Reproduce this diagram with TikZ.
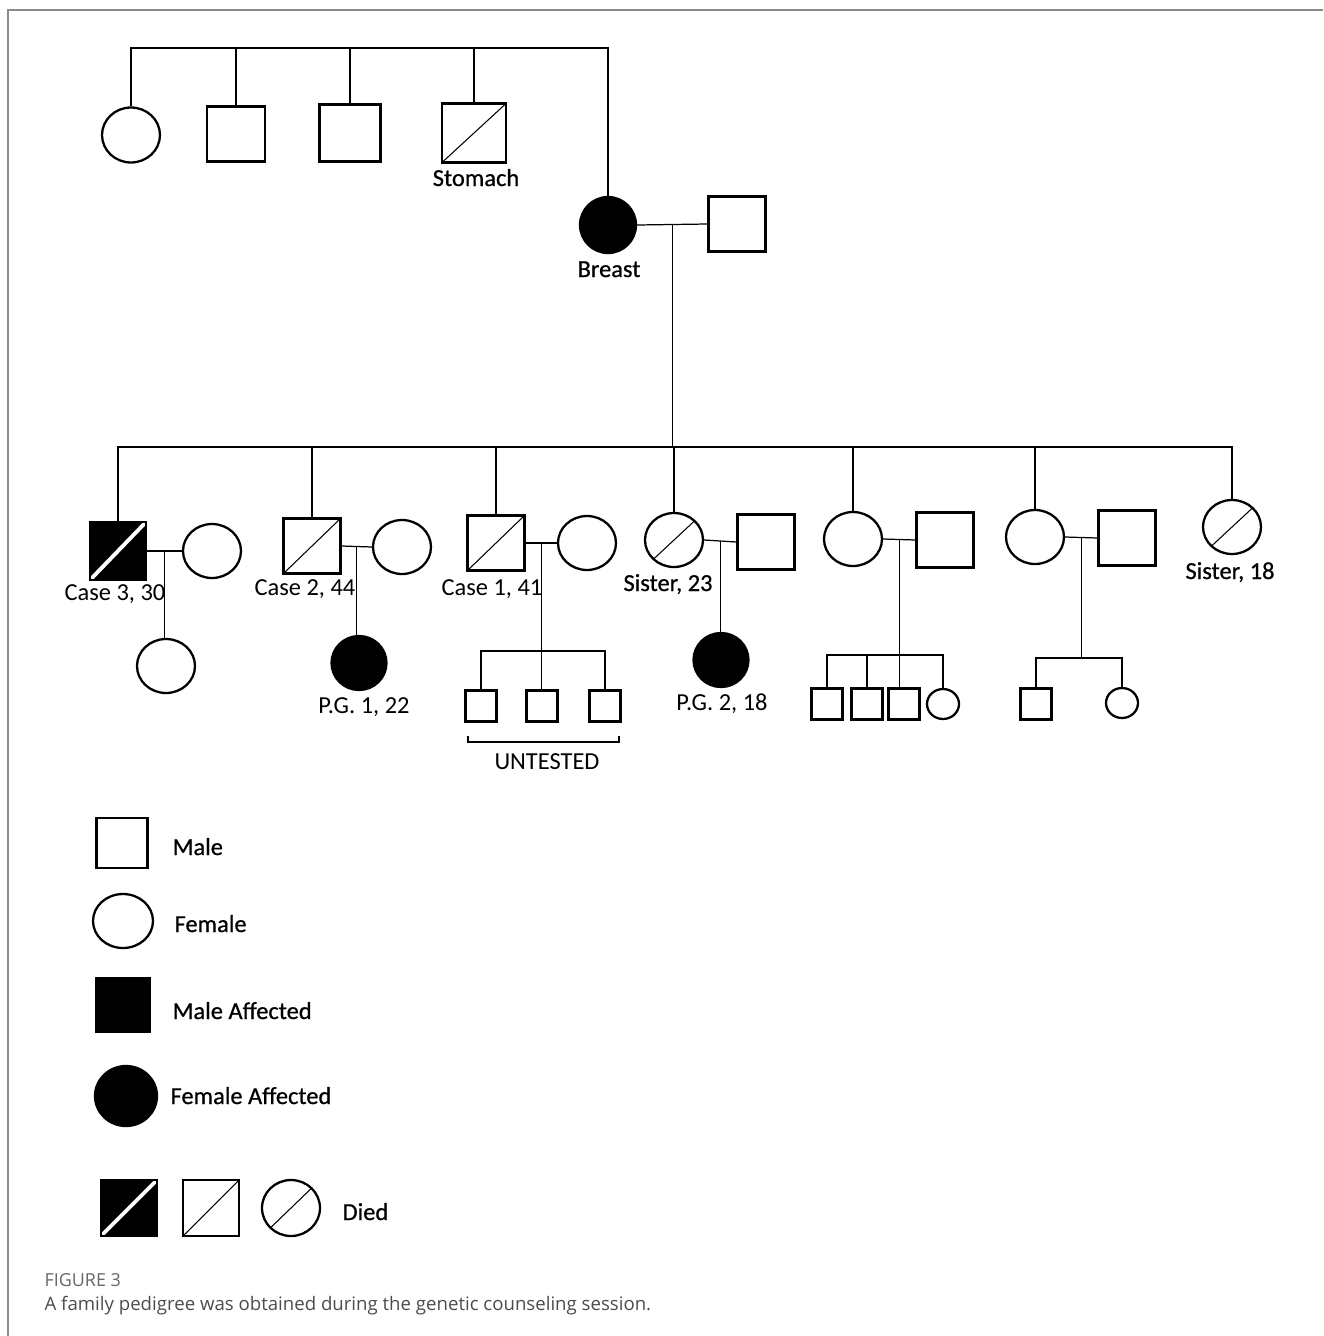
\documentclass[tikz,border=0pt]{standalone}
\usepackage{fontspec}
\setmainfont{Carlito}
\newfontfamily\heavyfont{Carlito}[FakeBold=0.7]
\newfontfamily\capfont{Open Sans}
\usetikzlibrary{shapes.geometric, calc}

\begin{document}
\begin{tikzpicture}[x=0.02cm,y=-0.02cm,line width=0.7pt,
          male/.style={draw,rectangle,line width=1.3pt,inner sep=0pt,
                       minimum width=1.14cm,minimum height=1.1cm},
          female/.style={draw,ellipse,line width=1.3pt,inner sep=0pt,
                         minimum width=1.16cm,minimum height=1.08cm},
          smale/.style={male,minimum width=0.62cm,minimum height=0.62cm},
          sfemale/.style={female,minimum width=0.64cm,minimum height=0.6cm},
          affected/.style={fill=black},
          died/.style={path picture={\draw[line width=0.6pt]
              (path picture bounding box.south west)--(path picture bounding box.north east);}},
          diedaff/.style={fill=black,path picture={\draw[white,line width=2.2pt]
              (path picture bounding box.south west)--(path picture bounding box.north east);}},
          lbl/.style={anchor=base,inner sep=0pt,font=\heavyfont\fontsize{13.9}{16}\selectfont},
          thin/.style={lbl,font=\fontsize{13.9}{16}\selectfont},
          key/.style={lbl,anchor=base west}]
        \useasboundingbox (0,0) rectangle (1323,1336);
        \draw[black!45,line width=0.8pt] (1323,10) -- (8,10) -- (8,1336);

        \node[female,minimum height=1.1cm](a1) at (131,135){};
        \node[male,minimum width=1.16cm](a2) at (236,134){};
        \node[male,minimum width=1.22cm,minimum height=1.14cm](a3) at (350,133){};
        \node[male,died,minimum width=1.28cm,minimum height=1.18cm](a4) at (474,133){};
        \node[lbl](stomach) at (476,186){Stomach};
        \node[female,affected,minimum width=1.12cm,minimum height=1.12cm](gm) at (608,225){};
        \node[lbl](breast) at (609,277){Breast};
        \node[male](gf) at (737,224){};
        \coordinate (top) at (126,48);
        \draw (a1.north) -- (a1.north |- top) -- (gm.north |- top) -- (gm.north);
        \foreach \n in {a2,a3,a4} \draw (\n.north) -- (\n.north |- top);
        \draw (gm.east) -- (gf.west);
        \coordinate (d0) at ($(gm.east)!0.5!(gf.west)$);
        \coordinate (sib) at (119,447);
        \draw (d0) -- (d0 |- sib);

        \node[male,diedaff,minimum width=1.12cm,minimum height=1.16cm](b1) at (118,551){};
        \node[female](b1w) at (212,551){};
        \node[female](b1c) at (166,666){};
        \node[male,died](b2) at (312,546){};
        \node[female](b2w) at (402,547){};
        \node[female,affected,minimum width=1.1cm](b2c) at (359,663){};
        \node[male,died](b3) at (496,543){};
        \node[female](b3w) at (587,543){};
        \node[smale](b3c1) at (481,706){};
        \node[smale](b3c2) at (542,706){};
        \node[smale](b3c3) at (605,706){};
        \node[female,died](b4) at (674,540){};
        \node[male](b4h) at (766,542){};
        \node[female,affected,minimum width=1.1cm](b4c) at (721,660){};
        \node[female](b5) at (853,539){};
        \node[male](b5h) at (945,540){};
        \node[smale](b5c1) at (827,704){};
        \node[smale](b5c2) at (867,704){};
        \node[smale](b5c3) at (904,704){};
        \node[sfemale](b5c4) at (943,704){};
        \node[female](b6) at (1035,537){};
        \node[male](b6h) at (1127,538){};
        \node[smale](b6c1) at (1036,704){};
        \node[sfemale](b6c2) at (1122,703){};
        \node[female,died](b7) at (1232,527){};

        \node[thin](case3) at (115,600){Case 3, 30};
        \node[thin](case2) at (305,595){Case 2, 44};
        \node[thin](case1) at (492,595){Case 1, 41};
        \node[lbl](sis23) at (668,591){Sister, 23};
        \node[lbl](sis18) at (1230,579){Sister, 18};
        \node[thin](pg1) at (364,713){P.G. 1, 22};
        \node[thin](pg2) at (722,710){P.G. 2, 18};

        \draw (b1.north) -- (b1.north |- sib) -- (b7.north |- sib) -- (b7.north);
        \foreach \n in {b2,b3,b4,b5,b6} \draw (\n.north) -- (\n.north |- sib);
        \foreach \p/\q/\i in {b1/b1w/1,b2/b2w/2,b3/b3w/3,b4/b4h/4,b5/b5h/5,b6/b6h/6}{
          \draw (\p.east) -- (\q.west);
          \coordinate (d\i) at ($(\p.east)!0.5!(\q.west)$);}
        \draw (d1) -- (d1 |- b1c.north);
        \draw (d2) -- (d2 |- b2c.north);
        \draw (d4) -- (d4 |- b4c.north);
        \coordinate (k3) at (0,651);
        \draw (d3) -- (d3 |- b3c2.north);
        \draw (b3c1.north) |- (b3c3.north |- k3) -- (b3c3.north);
        \coordinate (k5) at (0,655);
        \draw (d5) -- (d5 |- b5c3.north);
        \draw (b5c1.north) |- (b5c4.north |- k5) -- (b5c4.north);
        \draw (b5c2.north) -- (b5c2.north |- k5);
        \coordinate (k6) at (0,658);
        \draw (d6) -- (d6 |- k6);
        \draw (b6c1.north) |- (b6c2.north |- k6) -- (b6c2.north);

        \coordinate (brL) at (468,742);
        \coordinate (brR) at (619,742);
        \draw[line width=1.1pt] ($(brL)+(0,-6)$) -- (brL) -- (brR) -- ++(0,-6);
        \node[thin](untested) at (547,769){UNTESTED};

        \node[male,minimum width=1.02cm,minimum height=1.0cm](lm) at (122,843){};
        \node[key](tm) at (172,855){Male};
        \node[female,minimum width=1.2cm,minimum height=1.08cm](lf) at (123,921){};
        \node[key](tf) at (174,932){Female};
        \node[male,affected,minimum width=1.06cm,minimum height=1.08cm](lma) at (123,1005){};
        \node[key](tma) at (172,1019){Male Affected};
        \node[female,affected,minimum width=1.24cm,minimum height=1.2cm](lfa) at (126,1096){};
        \node[key](tfa) at (170,1104){Female Affected};
        \node[male,diedaff,minimum width=1.12cm,minimum height=1.12cm](ld1) at (129,1208){};
        \node[male,died,minimum width=1.12cm,minimum height=1.12cm](ld2) at (211,1208){};
        \node[female,died,minimum height=1.12cm](ld3) at (291,1208){};
        \node[key](tdied) at (342,1220){Died};

        \node[anchor=base west,inner sep=0pt,text=black!60,font=\capfont\fontsize{10.2}{12}\selectfont](fig) at (44,1286){FIGURE 3};
        \node[anchor=base west,inner sep=0pt,text=black!70,font=\capfont\fontsize{10.6}{12}\selectfont](cap) at (44,1310){A family pedigree was obtained during the genetic counseling session.};
      \end{tikzpicture}
\end{document}
